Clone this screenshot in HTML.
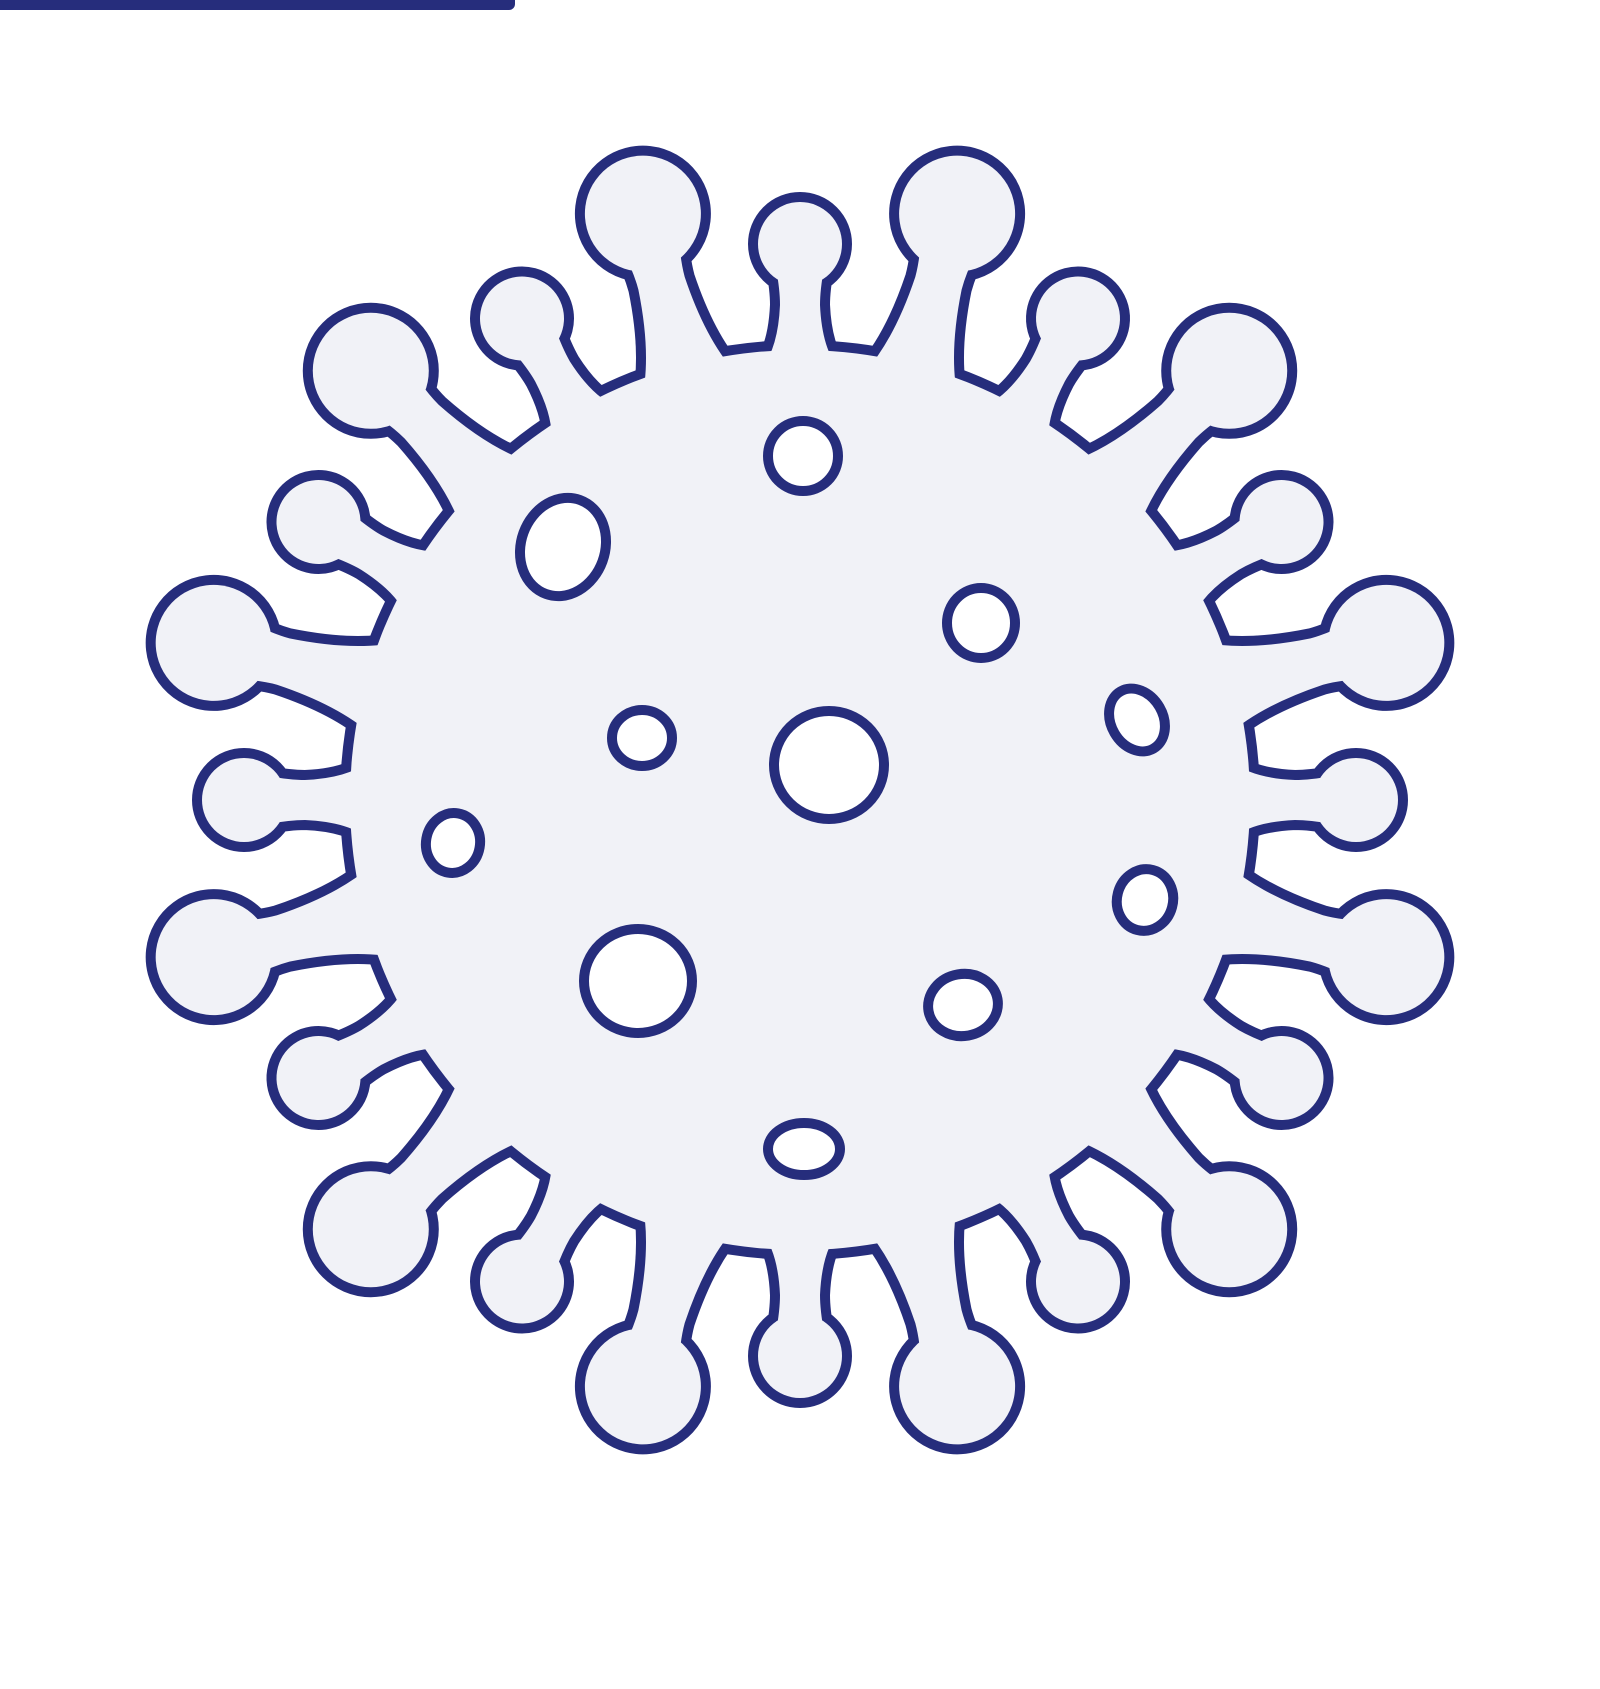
<!DOCTYPE html>
<html><head><meta charset="utf-8"><style>
html,body{margin:0;padding:0;background:#fff;}
svg{display:block;}
</style></head><body>
<svg id="v" width="1600" height="1689" viewBox="0 0 1600 1689" xmlns="http://www.w3.org/2000/svg">
<rect x="-20" y="-8" width="535" height="18" rx="6" fill="#262d7c"/>
<g id="outline" fill="#262d7c" stroke="#262d7c" stroke-width="20" stroke-linejoin="round"></g>
<g id="fill" fill="#f1f2f7" stroke="none"></g>
<g id="holes" fill="#ffffff" stroke="#262d7c" stroke-width="10"></g>
</svg>
<script>
const CX=800, CY=800;
const holeX=[803,563,981,642,829,1137,453,1145,638,963,804];
const holeY=[456,547,623,738,765,720,843,900,981,1005,1149];
const holeRX=[35,42,34,30,55,26,27,28,54,35,36];
const holeRY=[35,50,35,28,54,33,30,31,52,31,26];
const holeRot=[0,20,0,0,0,-30,10,15,0,-10,0];
const NS='http://www.w3.org/2000/svg';
function spike(angle,big){
  const g=document.createElementNS(NS,'g');
  g.setAttribute('transform','translate('+CX+','+CY+') rotate('+angle+')');
  const p=document.createElementNS(NS,'path');
  const c=document.createElementNS(NS,'circle');
  if(big){
    p.setAttribute('d','M -48,-430 Q -28,-470 -24,-535 Q -24,-555 -30,-580 L 30,-580 Q 24,-555 24,-535 Q 28,-470 48,-430 Z');
    c.setAttribute('cx',0);c.setAttribute('cy',-607);c.setAttribute('r',58);
  }else{
    p.setAttribute('d','M -40,-430 Q -22,-450 -20,-495 Q -20,-510 -24,-532 L 24,-532 Q 20,-510 20,-495 Q 22,-450 40,-430 Z');
    c.setAttribute('cx',0);c.setAttribute('cy',-556);c.setAttribute('r',42);
  }
  g.appendChild(p);g.appendChild(c);
  return g;
}
function build(layer,name){
  const b=document.createElementNS(NS,'circle');
  b.setAttribute('cx',CX);b.setAttribute('cy',CY);b.setAttribute('r',450);
  
  
  layer.appendChild(b);
  for(let k=0;k<24;k++){
    const s=spike(k*15,k%2===1);
    
    
    layer.appendChild(s);
  }
}
build(document.getElementById('outline'),'outline');
build(document.getElementById('fill'),'body');
const hg=document.getElementById('holes');
for(let i=0;i<holeX.length;i++){
  const e=document.createElementNS(NS,'ellipse');
  e.setAttribute('cx',holeX[i]);e.setAttribute('cy',holeY[i]);
  e.setAttribute('rx',holeRX[i]);e.setAttribute('ry',holeRY[i]);
  e.setAttribute('transform','rotate('+holeRot[i]+' '+holeX[i]+' '+holeY[i]+')');
  
  
  hg.appendChild(e);
}
</script>
</body></html>
